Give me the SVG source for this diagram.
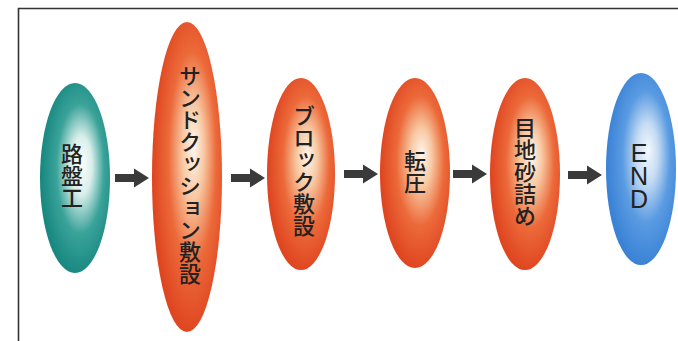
<svg xmlns="http://www.w3.org/2000/svg" width="678" height="341" viewBox="0 0 678 341">
<defs>
<style>
.lbl { font-family: "Noto Sans CJK JP", "Noto Sans", sans-serif; font-size: 22px; font-weight: 500; fill: #222; writing-mode: vertical-rl; text-orientation: mixed; text-anchor: middle; }
.en { font-family: "Liberation Sans", "Noto Sans", sans-serif; font-size: 25px; fill: #222; text-anchor: middle; }
.arrow { fill: #3a3a3a; }
.frame { fill: none; stroke: #333; stroke-width: 1.6; }
</style>
<radialGradient id="gTeal" cx="0.56" cy="0.47" r="0.55" fx="0.6" fy="0.42">
<stop offset="0" stop-color="#ffffff"/>
<stop offset="0.28" stop-color="#d9eeea"/>
<stop offset="0.62" stop-color="#3aa39a"/>
<stop offset="1" stop-color="#17877f"/>
</radialGradient>
<radialGradient id="gOrange" cx="0.56" cy="0.46" r="0.55" fx="0.6" fy="0.4">
<stop offset="0" stop-color="#fff6ec"/>
<stop offset="0.28" stop-color="#f8c8a2"/>
<stop offset="0.62" stop-color="#ec6a3a"/>
<stop offset="1" stop-color="#df4520"/>
</radialGradient>
<radialGradient id="gBlue" cx="0.56" cy="0.46" r="0.55" fx="0.6" fy="0.4">
<stop offset="0" stop-color="#f4f8fd"/>
<stop offset="0.28" stop-color="#c6dcf3"/>
<stop offset="0.62" stop-color="#5a9be2"/>
<stop offset="1" stop-color="#3a82d6"/>
</radialGradient>
<path id="arr" d="M0,-4 H19 V-9.5 L34,0 L19,9.5 V4 H0 Z"/>
</defs>
<rect width="678" height="341" fill="#ffffff"/>
<path class="frame" d="M18.5,341 V8.5 H678"/>

<g id="n1">
<ellipse cx="75" cy="178" rx="35" ry="95" fill="url(#gTeal)"/>
<text class="lbl" x="72" y="176">路盤工</text>
</g>
<g id="n2">
<ellipse cx="187" cy="177" rx="35" ry="155" fill="url(#gOrange)"/>
<text class="lbl" x="190" y="175">サンドクッション敷設</text>
</g>
<g id="n3">
<ellipse cx="301" cy="174" rx="34" ry="96" fill="url(#gOrange)"/>
<text class="lbl" x="304" y="171">ブロック敷設</text>
</g>
<g id="n4">
<ellipse cx="415" cy="173" rx="35" ry="95" fill="url(#gOrange)"/>
<text class="lbl" x="415" y="172">転圧</text>
</g>
<g id="n5">
<ellipse cx="525" cy="174" rx="35" ry="96" fill="url(#gOrange)"/>
<text class="lbl" x="525" y="172">目地砂詰め</text>
</g>
<g id="n6">
<ellipse cx="641" cy="169" rx="35" ry="96" fill="url(#gBlue)"/>
<text class="en" x="639 639 639" y="162 185 208">END</text>
</g>

<g id="connectors">
<use href="#arr" class="arrow" x="115" y="178"/>
<use href="#arr" class="arrow" x="231" y="178"/>
<use href="#arr" class="arrow" x="344" y="174"/>
<use href="#arr" class="arrow" x="453" y="174"/>
<use href="#arr" class="arrow" x="568" y="175"/>
</g>
</svg>
